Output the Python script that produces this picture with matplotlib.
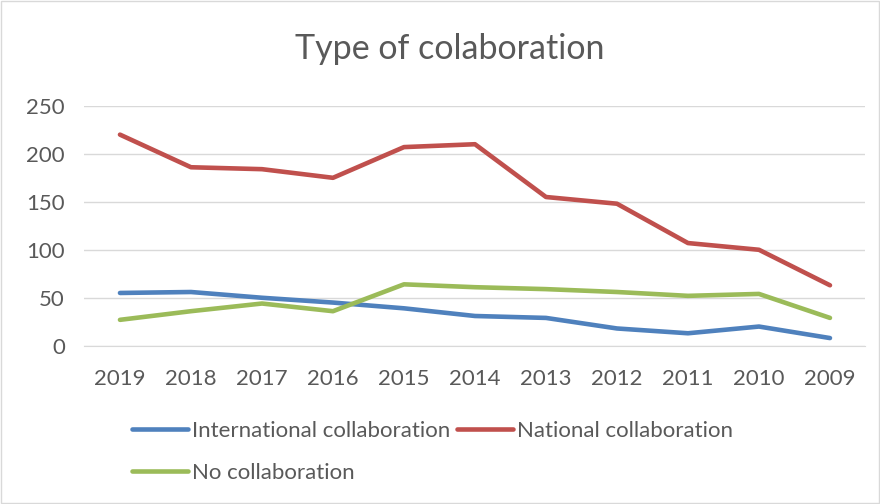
import matplotlib.pyplot as plt
from matplotlib.patches import Rectangle

# data
years = ['2019', '2018', '2017', '2016', '2015', '2014', '2013', '2012', '2011', '2010', '2009']
international = [55, 56, 50, 45, 39, 31, 29, 18, 13, 20, 8]
national = [220, 186, 184, 175, 207, 210, 155, 148, 107, 100, 63]
no_collab = [27, 36, 44, 36, 64, 61, 59, 56, 52, 54, 29]

plt.rcParams['font.family'] = ['Lato', 'DejaVu Sans']
text_col = '#595959'

fig = plt.figure(figsize=(8.8, 5.04), dpi=100)
ax = fig.add_axes([0.096, 0.314, 0.8875, 0.476])

x = range(len(years))
l1, = ax.plot(x, international, color='#4F81BD', lw=3.3, solid_capstyle='round', solid_joinstyle='round')
l2, = ax.plot(x, national, color='#C0504D', lw=3.3, solid_capstyle='round', solid_joinstyle='round')
l3, = ax.plot(x, no_collab, color='#9BBB59', lw=3.3, solid_capstyle='round', solid_joinstyle='round')

ax.set_xlim(-0.5, len(years) - 0.5)
ax.set_ylim(0, 250)
ax.set_yticks(range(0, 251, 50))
ax.set_xticks(list(x))
ax.set_xticklabels(years)
ax.grid(axis='y', color='#D9D9D9', lw=1.0)
ax.set_axisbelow(True)
for s in ['top', 'right', 'left']:
    ax.spines[s].set_visible(False)
ax.spines['bottom'].set_color('#D9D9D9')
ax.tick_params(axis='both', length=0, labelsize=16, colors=text_col)
ax.tick_params(axis='y', pad=14)
ax.tick_params(axis='x', pad=16.5)

fig.text(0.511, 0.903, 'Type of colaboration', ha='center', va='center', fontsize=24.5, color=text_col)

# legend wraps like Excel: two on first row, one on second
leg = fig.legend([l1, l3, l2], ['International collaboration', 'No collaboration', 'National collaboration'],
                 ncol=2, loc='upper left', bbox_to_anchor=(0.137, 0.187), frameon=False,
                 fontsize=16, handlelength=2.55, handletextpad=0.15, columnspacing=0.3,
                 labelspacing=1.0, borderpad=0)
for t in leg.get_texts():
    t.set_color(text_col)

fig.patches.append(Rectangle((0.001, 0.001), 0.998, 0.997, transform=fig.transFigure,
                             fill=False, edgecolor='#D9D9D9', lw=1))

fig.savefig('out.png', dpi=100)
